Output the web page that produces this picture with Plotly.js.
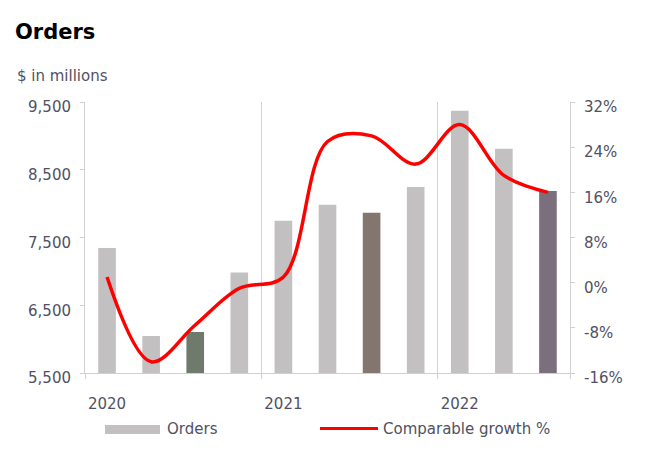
<!DOCTYPE html>
<html>
<head>
<meta charset="utf-8">
<script src="https://cdn.plot.ly/plotly-3.0.1.min.js"></script>
<style>body{margin:0;background:#fff}#chart{width:654px;height:465px}</style>
</head>
<body>
<div id="chart"></div>
<script>
// ---- data ----
const quarters = ["Q1 2020","Q2 2020","Q3 2020","Q4 2020","Q1 2021","Q2 2021","Q3 2021","Q4 2021","Q1 2022","Q2 2022","Q3 2022"];
const orders = [7345, 6047, 6105, 6985, 7748, 7983, 7865, 8245, 9370, 8810, 8187];
const growth = [1, -14, -7.5, -1, 1, 25, 26, 21, 28, 19, 16];
const yearLabels = ["2020", "2021", "2022"];
const yearIndex = [0, 4, 8];
const yearBoundaries = [-0.5, 3.5, 7.5, 10.5];
const leftTicks = [5500, 6500, 7500, 8500, 9500];
const rightTicks = [-16, -8, 0, 8, 16, 24, 32];
const rightTickText = ["-16%", "-8%", "0%", "8%", "16%", "24%", "32%"];

// ---- style ----
const light = "#c3c0c1";
const barColors = [light, light, "#6f7a6c", light, light, light, "#82766f", light, light, light, "#7b6f7e"];
const textColor = "#4f5163";
const font = "DejaVu Sans, sans-serif";
const xIdx = quarters.map((_, i) => i);

const traces = [
  {
    type: "bar", name: "Orders", x: xIdx, y: orders, hovertext: quarters, textposition: "none",
    width: 0.4, marker: {color: barColors}, showlegend: false
  },
  {
    type: "scatter", mode: "lines", name: "Comparable growth %", x: xIdx, y: growth, yaxis: "y2",
    hovertext: quarters, line: {color: "#ff0000", width: 3.5, shape: "spline", smoothing: 1.0}, showlegend: false
  },
  // carrier for the secondary x axis (year boundaries / gridlines)
  {type: "scatter", x: [0], y: [5500], xaxis: "x2", mode: "markers",
   marker: {opacity: 0}, hoverinfo: "skip", showlegend: false}
];

const W = 485, H = 271; // plot area size
const px = v => (v - 85) / W;
const py = v => (373 - v) / H;

const layout = {
  width: 654, height: 465,
  margin: {l: 85, r: 84, t: 102, b: 92},
  paper_bgcolor: "#fff", plot_bgcolor: "#fff",
  font: {family: font, size: 15, color: textColor},
  title: {text: "<b>Orders</b>", x: 15/654, xanchor: "left", xref: "container",
          y: 1 - 32/465, yanchor: "middle", yref: "container",
          font: {family: font, size: 21, color: "#000"}},
  xaxis: {
    range: [-0.5, 10.5], tickvals: yearIndex, ticktext: yearLabels,
    showgrid: false, zeroline: false, showline: true, linecolor: "#d0d0d0", linewidth: 1,
    ticks: "", ticklabelstandoff: 17, tickfont: {size: 15, color: textColor}
  },
  xaxis2: {
    overlaying: "x", anchor: "y", side: "bottom", range: [-0.5, 10.5],
    tickvals: yearBoundaries, showticklabels: false, ticks: "outside", ticklen: 5,
    tickcolor: "#d0d0d0", showgrid: true, gridcolor: "#d4d4d4", gridwidth: 1,
    zeroline: false, showline: false
  },
  yaxis: {
    range: [5500, 9500], tickvals: leftTicks, tickformat: ",",
    showgrid: false, zeroline: false, showline: true, linecolor: "#d0d0d0", linewidth: 1,
    ticks: "outside", ticklen: 4, tickcolor: "#d0d0d0", ticklabelstandoff: 6,
    ticklabelshift: 5, tickfont: {size: 15, color: textColor}
  },
  yaxis2: {
    overlaying: "y", side: "right", range: [-16, 32], tickvals: rightTicks, ticktext: rightTickText,
    showgrid: false, zeroline: false, showline: true, linecolor: "#d0d0d0",
    ticks: "outside", ticklen: 4, tickcolor: "#d0d0d0", ticklabelstandoff: 6,
    ticklabelshift: 5, tickfont: {size: 15, color: textColor}
  },
  annotations: [
    {text: "$ in millions", xref: "paper", yref: "paper", x: px(15), y: py(76),
     xanchor: "left", yanchor: "middle", showarrow: false, font: {size: 15, color: textColor}},
    {text: "Orders", xref: "paper", yref: "paper", x: px(165), y: py(429),
     xanchor: "left", yanchor: "middle", showarrow: false, font: {size: 15, color: textColor}},
    {text: "Comparable growth %", xref: "paper", yref: "paper", x: px(381), y: py(429),
     xanchor: "left", yanchor: "middle", showarrow: false, font: {size: 15, color: textColor}}
  ],
  shapes: [
    {type: "rect", xref: "paper", yref: "paper", x0: px(105), x1: px(160), y0: py(434), y1: py(425),
     fillcolor: light, line: {width: 0}},
    {type: "line", xref: "paper", yref: "paper", x0: px(320), x1: px(378), y0: py(428.5), y1: py(428.5),
     line: {color: "#ff0000", width: 3}}
  ],
  showlegend: false
};

Plotly.newPlot("chart", traces, layout, {displayModeBar: false, staticPlot: true});
</script>
</body>
</html>
